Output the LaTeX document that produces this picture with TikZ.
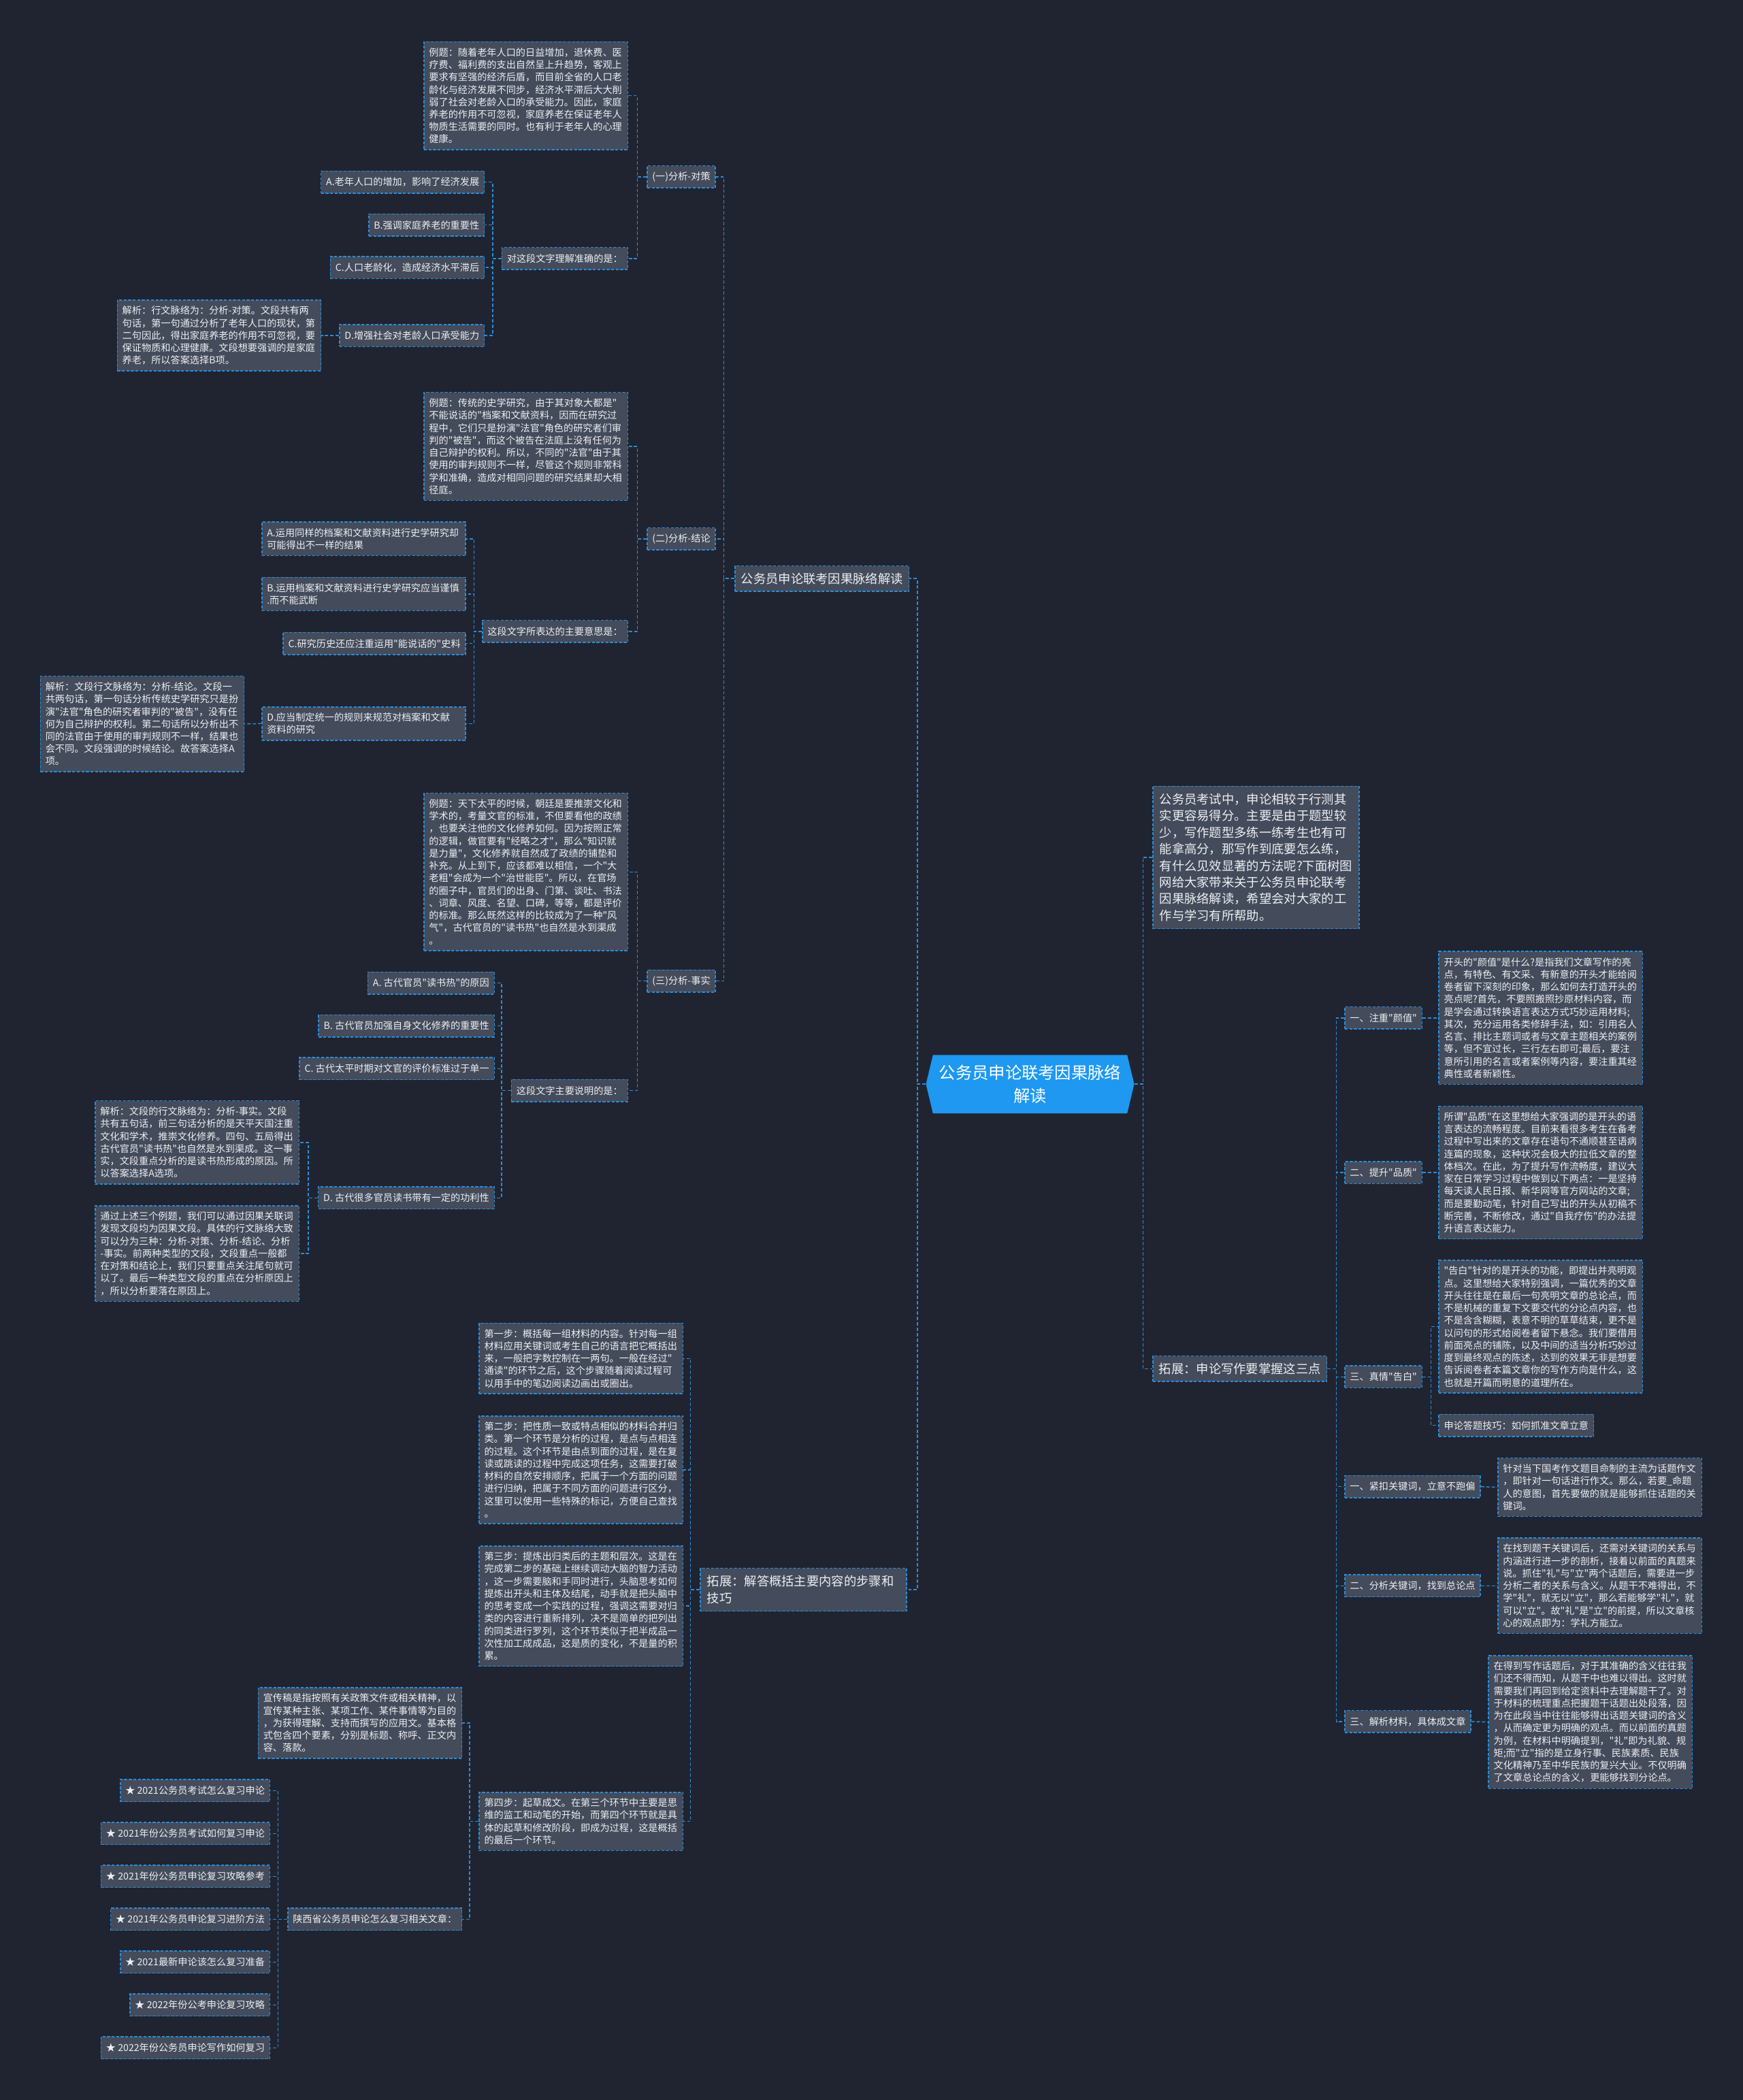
\documentclass[tikz,border=0pt]{standalone}
\usepackage{fontspec}
\setmainfont{Noto Sans CJK SC}[Ligatures=TeXOff]
\usetikzlibrary{shapes.symbols}

\definecolor{bgnavy}{RGB}{32,36,48}
\definecolor{boxgray}{RGB}{68,75,90}
\definecolor{linkblue}{RGB}{42,140,215}
\definecolor{txtwhite}{RGB}{236,239,243}
\definecolor{rootblue}{RGB}{30,152,240}

\newcommand\sizeS{\fontsize{7.2pt}{9.27pt}\selectfont}
\newcommand\sizeM{\fontsize{9.3pt}{12.4pt}\selectfont}
\newcommand\sizeL{\fontsize{12.35pt}{17pt}\selectfont}

\begin{document}
\begin{tikzpicture}[x=1pt, y=-1pt,
  link/.style={draw=linkblue, line width=0.75pt, dash pattern=on 2.5pt off 1.5pt},
  box/.style={draw=linkblue, line width=0.75pt, dash pattern=on 2.2pt off 1.2pt,
    fill=boxgray, text=txtwhite, inner xsep=3.8pt, inner ysep=4.5pt},
  leaf/.style={box, font=\sizeS, minimum height=16.5pt},
  para/.style={box, font=\sizeS, text width=144.5pt, align=left},
  head/.style={box, font=\sizeM, inner xsep=4.5pt, minimum height=19pt},
  headpara/.style={box, font=\sizeM, inner xsep=5pt, inner ysep=5.5pt, text width=144pt, align=left},
  root/.style={signal, signal to=west and east, signal pointer angle=153,
    fill=rootblue, text=white, font=\sizeL, align=center, text width=137pt,
    inner xsep=4pt, inner ysep=7.5pt}]

    \useasboundingbox (0,0) rectangle (1301,1568);
    \fill[bgnavy] (0,0) rectangle (1301,1568);

    % Root
    \node[root] (root) at (769,809.5) {公务员申论联考因果脉络\\解读};

    % Left branch: the three kinds of causal paragraphs
    \node[head, anchor=east] (mainA) at (679,432) {公务员申论联考因果脉络解读};
    \node[leaf, anchor=east] (catA) at (534.5,132) {(一)分析-对策};
    \node[leaf, anchor=east] (catB) at (534.5,402.3) {(二)分析-结论};
    \node[leaf, anchor=east] (catC) at (534.5,732.5) {(三)分析-事实};

    % (一)
    \node[para, anchor=east] (exA) at (469,71.5) {例题：随着老年人口的日益增加，退休费、医\\疗费、福利费的支出自然呈上升趋势，客观上\\要求有坚强的经济后盾，而目前全省的人口老\\龄化与经济发展不同步，经济水平滞后大大削\\弱了社会对老龄入口的承受能力。因此，家庭\\养老的作用不可忽视，家庭养老在保证老年人\\物质生活需要的同时。也有利于老年人的心理\\健康。};
    \node[leaf, anchor=east] (askA) at (469,193) {对这段文字理解准确的是：};
    \node[leaf, anchor=east] (optA1) at (362,136) {A.老年人口的增加，影响了经济发展};
    \node[leaf, anchor=east] (optA2) at (362,168) {B.强调家庭养老的重要性};
    \node[leaf, anchor=east] (optA3) at (362,199.8) {C.人口老龄化，造成经济水平滞后};
    \node[leaf, anchor=east] (optA4) at (362,250.5) {D.增强社会对老龄人口承受能力};
    \node[para, anchor=east] (keyA) at (240,250.5) {解析：行文脉络为：分析-对策。文段共有两\\句话，第一句通过分析了老年人口的现状，第\\二句因此，得出家庭养老的作用不可忽视，要\\保证物质和心理健康。文段想要强调的是家庭\\养老，所以答案选择B项。};

    % (二)
    \node[para, anchor=east] (exB) at (469,333.3) {例题：传统的史学研究，由于其对象大都是"\\不能说话的"档案和文献资料，因而在研究过\\程中，它们只是扮演"法官"角色的研究者们审\\判的"被告"，而这个被告在法庭上没有任何为\\自己辩护的权利。所以，不同的"法官"由于其\\使用的审判规则不一样，尽管这个规则非常科\\学和准确，造成对相同问题的研究结果却大相\\径庭。};
    \node[leaf, anchor=east] (askB) at (469,471.5) {这段文字所表达的主要意思是：};
    \node[para, anchor=east] (optB1) at (348,402.3) {A.运用同样的档案和文献资料进行史学研究却\\可能得出不一样的结果};
    \node[para, anchor=east] (optB2) at (348,443.5) {B.运用档案和文献资料进行史学研究应当谨慎\\.而不能武断};
    \node[leaf, anchor=east] (optB3) at (348,480.5) {C.研究历史还应注重运用"能说话的"史料};
    \node[para, anchor=east] (optB4) at (348,540.3) {D.应当制定统一的规则来规范对档案和文献\\资料的研究};
    \node[para, anchor=east] (keyB) at (182.6,540.5) {解析：文段行文脉络为：分析-结论。文段一\\共两句话，第一句话分析传统史学研究只是扮\\演"法官"角色的研究者审判的"被告"，没有任\\何为自己辩护的权利。第二句话所以分析出不\\同的法官由于使用的审判规则不一样，结果也\\会不同。文段强调的时候结论。故答案选择A\\项。};

    % (三)
    \node[para, anchor=east] (exC) at (469,651) {例题：天下太平的时候，朝廷是要推崇文化和\\学术的，考量文官的标准，不但要看他的政绩\\，也要关注他的文化修养如何。因为按照正常\\的逻辑，做官要有"经略之才"，那么"知识就\\是力量"，文化修养就自然成了政绩的铺垫和\\补充。从上到下，应该都难以相信，一个"大\\老粗"会成为一个"治世能臣"。所以，在官场\\的圈子中，官员们的出身、门第、谈吐、书法\\、词章、风度、名望、口碑，等等，都是评价\\的标准。那么既然这样的比较成为了一种"风\\气"，古代官员的"读书热"也自然是水到渠成\\。};
    \node[leaf, anchor=east] (askC) at (469,814.3) {这段文字主要说明的是：};
    \node[leaf, anchor=east] (optC1) at (369.4,734) {A. 古代官员"读书热"的原因};
    \node[leaf, anchor=east] (optC2) at (369.4,766) {B. 古代官员加强自身文化修养的重要性};
    \node[leaf, anchor=east] (optC3) at (369.4,797.9) {C. 古代太平时期对文官的评价标准过于单一};
    \node[leaf, anchor=east] (optC4) at (369.4,894.4) {D. 古代很多官员读书带有一定的功利性};
    \node[para, anchor=east] (keyC) at (223.6,853) {解析：文段的行文脉络为：分析-事实。文段\\共有五句话，前三句话分析的是天平天国注重\\文化和学术，推崇文化修养。四句、五局得出\\古代官员"读书热"也自然是水到渠成。这一事\\实，文段重点分析的是读书热形成的原因。所\\以答案选择A选项。};
    \node[para, anchor=east] (sumC) at (223.6,936) {通过上述三个例题，我们可以通过因果关联词\\发现文段均为因果文段。具体的行文脉络大致\\可以分为三种：分析-对策、分析-结论、分析\\-事实。前两种类型的文段，文段重点一般都\\在对策和结论上，我们只要重点关注尾句就可\\以了。最后一种类型文段的重点在分析原因上\\，所以分析要落在原因上。};

    % Left branch: steps of summarising
    \node[headpara, anchor=east] (mainB) at (677.2,1187) {拓展：解答概括主要内容的步骤和\\技巧};
    \node[para, anchor=east] (step1) at (510.2,1014.3) {第一步：概括每一组材料的内容。针对每一组\\材料应用关键词或考生自己的语言把它概括出\\来，一般把字数控制在一两句。一般在经过"\\通读"的环节之后，这个步骤随着阅读过程可\\以用手中的笔边阅读边画出或圈出。};
    \node[para, anchor=east] (step2) at (510.2,1097.5) {第二步：把性质一致或特点相似的材料合并归\\类。第一个环节是分析的过程，是点与点相连\\的过程。这个环节是由点到面的过程，是在复\\读或跳读的过程中完成这项任务，这需要打破\\材料的自然安排顺序，把属于一个方面的问题\\进行归纳，把属于不同方面的问题进行区分，\\这里可以使用一些特殊的标记，方便自己查找\\。};
    \node[para, anchor=east] (step3) at (510.2,1199.2) {第三步：提炼出归类后的主题和层次。这是在\\完成第二步的基础上继续调动大脑的智力活动\\，这一步需要脑和手同时进行，头脑思考如何\\提炼出开头和主体及结尾，动手就是把头脑中\\的思考变成一个实践的过程，强调这需要对归\\类的内容进行重新排列，决不是简单的把列出\\的同类进行罗列，这个环节类似于把半成品一\\次性加工成成品，这是质的变化，不是量的积\\累。};
    \node[para, anchor=east] (step4) at (510.2,1360) {第四步：起草成文。在第三个环节中主要是思\\维的监工和动笔的开始，而第四个环节就是具\\体的起草和修改阶段，即成为过程，这是概括\\的最后一个环节。};
    \node[para, anchor=east] (promo) at (345.2,1286.5) {宣传稿是指按照有关政策文件或相关精神，以\\宣传某种主张、某项工作、某件事情等为目的\\，为获得理解、支持而撰写的应用文。基本格\\式包含四个要素，分别是标题、称呼、正文内\\容、落款。};
    \node[leaf, anchor=east] (rel) at (345.2,1433) {陕西省公务员申论怎么复习相关文章：};
    \foreach \t [count=\i] in {2021公务员考试怎么复习申论,%
2021年份公务员考试如何复习申论,%
2021年份公务员申论复习攻略参考,%
2021年公务员申论复习进阶方法,%
2021最新申论该怎么复习准备,%
2022年份公考申论复习攻略,%
2022年份公务员申论写作如何复习}{
        \node[leaf, anchor=east] (star\i) at (201.8,1305+32*\i) {★ \t};
    }

    % Right branch
    \node[headpara, anchor=west] (intro) at (860.3,640.2) {公务员考试中，申论相较于行测其\\实更容易得分。主要是由于题型较\\少，写作题型多练一练考生也有可\\能拿高分，那写作到底要怎么练，\\有什么见效显著的方法呢?下面树图\\网给大家带来关于公务员申论联考\\因果脉络解读，希望会对大家的工\\作与学习有所帮助。};
    \node[head, anchor=west] (mainC) at (860.3,1022) {拓展：申论写作要掌握这三点};

    \node[leaf, anchor=west] (tipA) at (1003.6,760) {一、注重"颜值"};
    \node[leaf, anchor=west] (tipB) at (1003.6,875.5) {二、提升"品质"};
    \node[leaf, anchor=west] (tipC) at (1003.6,1028) {三、真情"告白"};
    \node[leaf, anchor=west] (tipD) at (1003.6,1110) {一、紧扣关键词，立意不跑偏};
    \node[leaf, anchor=west] (tipE) at (1003.6,1184) {二、分析关键词，找到总论点};
    \node[leaf, anchor=west] (tipF) at (1003.6,1285.4) {三、解析材料，具体成文章};

    \node[para, anchor=west] (noteA) at (1073.8,760) {开头的"颜值"是什么?是指我们文章写作的亮\\点，有特色、有文采、有新意的开头才能给阅\\卷者留下深刻的印象，那么如何去打造开头的\\亮点呢?首先，不要照搬照抄原材料内容，而\\是学会通过转换语言表达方式巧妙运用材料;\\其次，充分运用各类修辞手法，如：引用名人\\名言、排比主题词或者与文章主题相关的案例\\等，但不宜过长，三行左右即可;最后，要注\\意所引用的名言或者案例等内容，要注重其经\\典性或者新颖性。};
    \node[para, anchor=west] (noteB) at (1073.8,875.5) {所谓"品质"在这里想给大家强调的是开头的语\\言表达的流畅程度。目前来看很多考生在备考\\过程中写出来的文章存在语句不通顺甚至语病\\连篇的现象，这种状况会极大的拉低文章的整\\体档次。在此，为了提升写作流畅度，建议大\\家在日常学习过程中做到以下两点：一是坚持\\每天读人民日报、新华网等官方网站的文章;\\而是要勤动笔，针对自己写出的开头从初稿不\\断完善，不断修改，通过"自我疗伤"的办法提\\升语言表达能力。};
    \node[para, anchor=west] (noteC) at (1073.8,990.6) {"告白"针对的是开头的功能，即提出并亮明观\\点。这里想给大家特别强调，一篇优秀的文章\\开头往往是在最后一句亮明文章的总论点，而\\不是机械的重复下文要交代的分论点内容，也\\不是含含糊糊，表意不明的草草结束，更不是\\以问句的形式给阅卷者留下悬念。我们要借用\\前面亮点的铺陈，以及中间的适当分析巧妙过\\度到最终观点的陈述，达到的效果无非是想要\\告诉阅卷者本篇文章你的写作方向是什么，这\\也就是开篇而明意的道理所在。};
    \node[leaf, anchor=west] (skill) at (1073.8,1064.3) {申论答题技巧：如何抓准文章立意};
    \node[para, anchor=west] (noteD) at (1117.9,1110.5) {针对当下国考作文题目命制的主流为话题作文\\，即针对一句话进行作文。那么，若要\_命题\\人的意图，首先要做的就是能够抓住话题的关\\键词。};
    \node[para, anchor=west] (noteE) at (1117.9,1184) {在找到题干关键词后，还需对关键词的关系与\\内涵进行进一步的剖析，接着以前面的真题来\\说。抓住"礼"与"立"两个话题后，需要进一步\\分析二者的关系与含义。从题干不难得出，不\\学"礼"，就无以"立"，那么若能够学"礼"，就\\可以"立"。故"礼"是"立"的前提，所以文章核\\心的观点即为：学礼方能立。};
    \node[para, anchor=west] (noteF) at (1110.9,1285.8) {在得到写作话题后，对于其准确的含义往往我\\们还不得而知，从题干中也难以得出。这时就\\需要我们再回到给定资料中去理解题干了。对\\于材料的梳理重点把握题干话题出处段落，因\\为在此段当中往往能够得出话题关键词的含义\\，从而确定更为明确的观点。而以前面的真题\\为例，在材料中明确提到，"礼"即为礼貌、规\\矩;而"立"指的是立身行事、民族素质、民族\\文化精神乃至中华民族的复兴大业。不仅明确\\了文章总论点的含义，更能够找到分论点。};

    % Connectors, left side
    \foreach \c in {mainA,mainB}
        \draw[link] (root.west) -- ++(-6.2,0) |- (\c.east);
    \foreach \c in {catA,catB,catC}
        \draw[link] (mainA.west) -- ++(-8,0) |- (\c.east);
    \foreach \c in {exA,askA}
        \draw[link] (catA.west) -- ++(-7,0) |- (\c.east);
    \foreach \c in {optA1,optA2,optA3,optA4}
        \draw[link] (askA.west) -- ++(-6.5,0) |- (\c.east);
    \draw[link] (optA4.west) -- (keyA.east);
    \foreach \c in {exB,askB}
        \draw[link] (catB.west) -- ++(-7,0) |- (\c.east);
    \foreach \c in {optB1,optB2,optB3,optB4}
        \draw[link] (askB.west) -- ++(-6,0) |- (\c.east);
    \draw[link] (optB4.west) -- (keyB.east);
    \foreach \c in {exC,askC}
        \draw[link] (catC.west) -- ++(-7,0) |- (\c.east);
    \foreach \c in {optC1,optC2,optC3,optC4}
        \draw[link] (askC.west) -- ++(-7,0) |- (\c.east);
    \foreach \c in {keyC,sumC}
        \draw[link] (optC4.west) -- ++(-7,0) |- (\c.east);
    \foreach \c in {step1,step2,step3,step4}
        \draw[link] (mainB.west) -- ++(-6.9,0) |- (\c.east);
    \foreach \c in {promo,rel}
        \draw[link] (step4.west) -- ++(-6.7,0) |- (\c.east);
    \foreach \i in {1,...,7}
        \draw[link] (rel.west) -- ++(-6.9,0) |- (star\i.east);

    % Connectors, right side
    \foreach \c in {intro,mainC}
        \draw[link] (root.east) -- ++(6.4,0) |- (\c.west);
    \foreach \c in {tipA,tipB,tipC,tipD,tipE,tipF}
        \draw[link] (mainC.east) -- ++(6.7,0) |- (\c.west);
    \draw[link] (tipA.east) -- (noteA.west);
    \draw[link] (tipB.east) -- (noteB.west);
    \foreach \c in {noteC,skill}
        \draw[link] (tipC.east) -- ++(6.4,0) |- (\c.west);
    \draw[link] (tipD.east) -- (noteD.west);
    \draw[link] (tipE.east) -- (noteE.west);
    \draw[link] (tipF.east) -- (noteF.west);

\end{tikzpicture}
\end{document}
